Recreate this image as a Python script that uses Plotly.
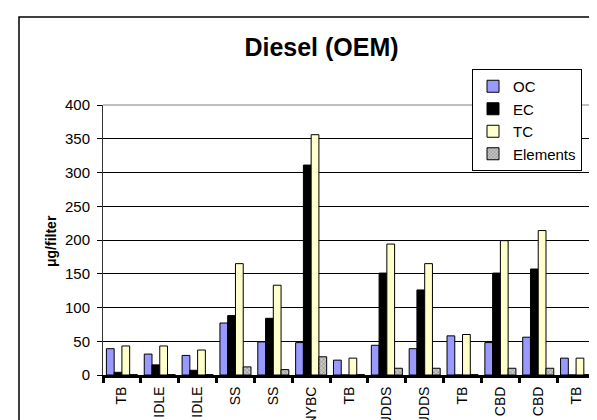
import plotly.graph_objects as go

# ---- data ----
labels = ["TB", "IDLE", "IDLE", "SS", "SS", "NYBC", "TB", "UDDS", "UDDS", "TB", "CBD", "CBD", "TB"]
oc = [39, 31, 29, 77, 49, 48, 22, 44, 39, 58, 48, 56, 25]
ec = [4, 15, 7, 88, 84, 311, 0, 151, 126, 0, 151, 157, 0]
tc = [43, 43, 37, 165, 133, 356, 25, 194, 165, 60, 199, 214, 25]
elements = [0.5, 0.5, 0.5, 12, 8, 27, 0.5, 10, 10, 0.5, 10, 10, 0.5]
ids = [str(i) for i in range(len(labels))]

FONT = "Liberation Sans, Arial, sans-serif"
W, H = 597, 420
L, R, T, B = 95, 10, 97, 53  # plot area px: x 95..587, y 97..367
pw, ph = W - L - R, H - T - B

def px_x(p):
    return (p - L) / pw

def px_y(p):
    return (H - B - p) / ph

fig = go.Figure()
line = dict(color="black", width=1)
fig.add_trace(go.Bar(name="OC", x=ids, y=oc, marker=dict(color="#9999FF", line=line)))
fig.add_trace(go.Bar(name="EC", x=ids, y=ec, marker=dict(color="#000000", line=line)))
fig.add_trace(go.Bar(name="TC", x=ids, y=tc, marker=dict(color="#FFFFCC", line=line)))
fig.add_trace(go.Bar(name="Elements", x=ids, y=elements,
                     marker=dict(color="#C0C0C0", line=line,
                                 pattern=dict(shape="x", fgcolor="#555555", bgcolor="#C8C8C8",
                                              size=3, solidity=0.4))))

fig.update_layout(
    width=W, height=H,
    margin=dict(l=L, r=R, t=T, b=B, autoexpand=False),
    paper_bgcolor="white", plot_bgcolor="white",
    barmode="group", bargap=0.18, bargroupgap=0,
    font=dict(family=FONT, color="black"),
    title=dict(text="<b>Diesel (OEM)</b>", x=313.5 / W, xref="container",
               xanchor="center", y=1 - 39 / H, yanchor="middle",
               font=dict(size=25, family=FONT, color="black")),
    showlegend=True,
    legend=dict(x=px_x(574), xanchor="right", y=px_y(61), yanchor="top",
                bgcolor="white", bordercolor="black", borderwidth=1,
                font=dict(size=15, family=FONT), tracegroupgap=0,
                itemwidth=30),
    xaxis=dict(type="category", categoryorder="array", categoryarray=ids,
               tickvals=ids, ticktext=labels, tickangle=-90, tickson="boundaries",
               ticks="outside", ticklen=5, tickwidth=3, tickcolor="black",
               showline=True, linecolor="black", linewidth=3,
               showgrid=False, zeroline=False, ticklabelstandoff=3,
               tickfont=dict(size=14, family=FONT), range=[-0.5, len(ids) - 0.5]),
    yaxis=dict(range=[0, 400], tickvals=[0, 50, 100, 150, 200, 250, 300, 350, 400],
               ticks="outside", ticklen=5, tickcolor="black",
               showline=True, linecolor="#333333", linewidth=1,
               showgrid=True, gridcolor="black", gridwidth=1, zeroline=False,
               tickfont=dict(size=15, family=FONT), ticklabelstandoff=4),
)

# y-axis title
fig.add_annotation(text="<b>\u03bcg/filter</b>", textangle=-90, showarrow=False,
                   xref="paper", yref="paper", x=px_x(43), y=px_y(233),
                   xanchor="center", yanchor="middle",
                   font=dict(size=14, family=FONT, color="black"))

# gray plot-area border top/right
fig.add_shape(type="line", xref="paper", yref="paper", x0=0, x1=1, y0=1, y1=1,
              line=dict(color="#808080", width=1), layer="above")
fig.add_shape(type="line", xref="paper", yref="paper", x0=1, x1=1, y0=0, y1=1,
              line=dict(color="#808080", width=1), layer="above")
# outer chart frame (cropped at right/bottom)
fig.add_shape(type="rect", xref="paper", yref="paper",
              x0=px_x(11), x1=px_x(W + 20), y0=px_y(H + 20), y1=px_y(9),
              line=dict(color="black", width=1.5), layer="above")

fig.write_html("out.html")
